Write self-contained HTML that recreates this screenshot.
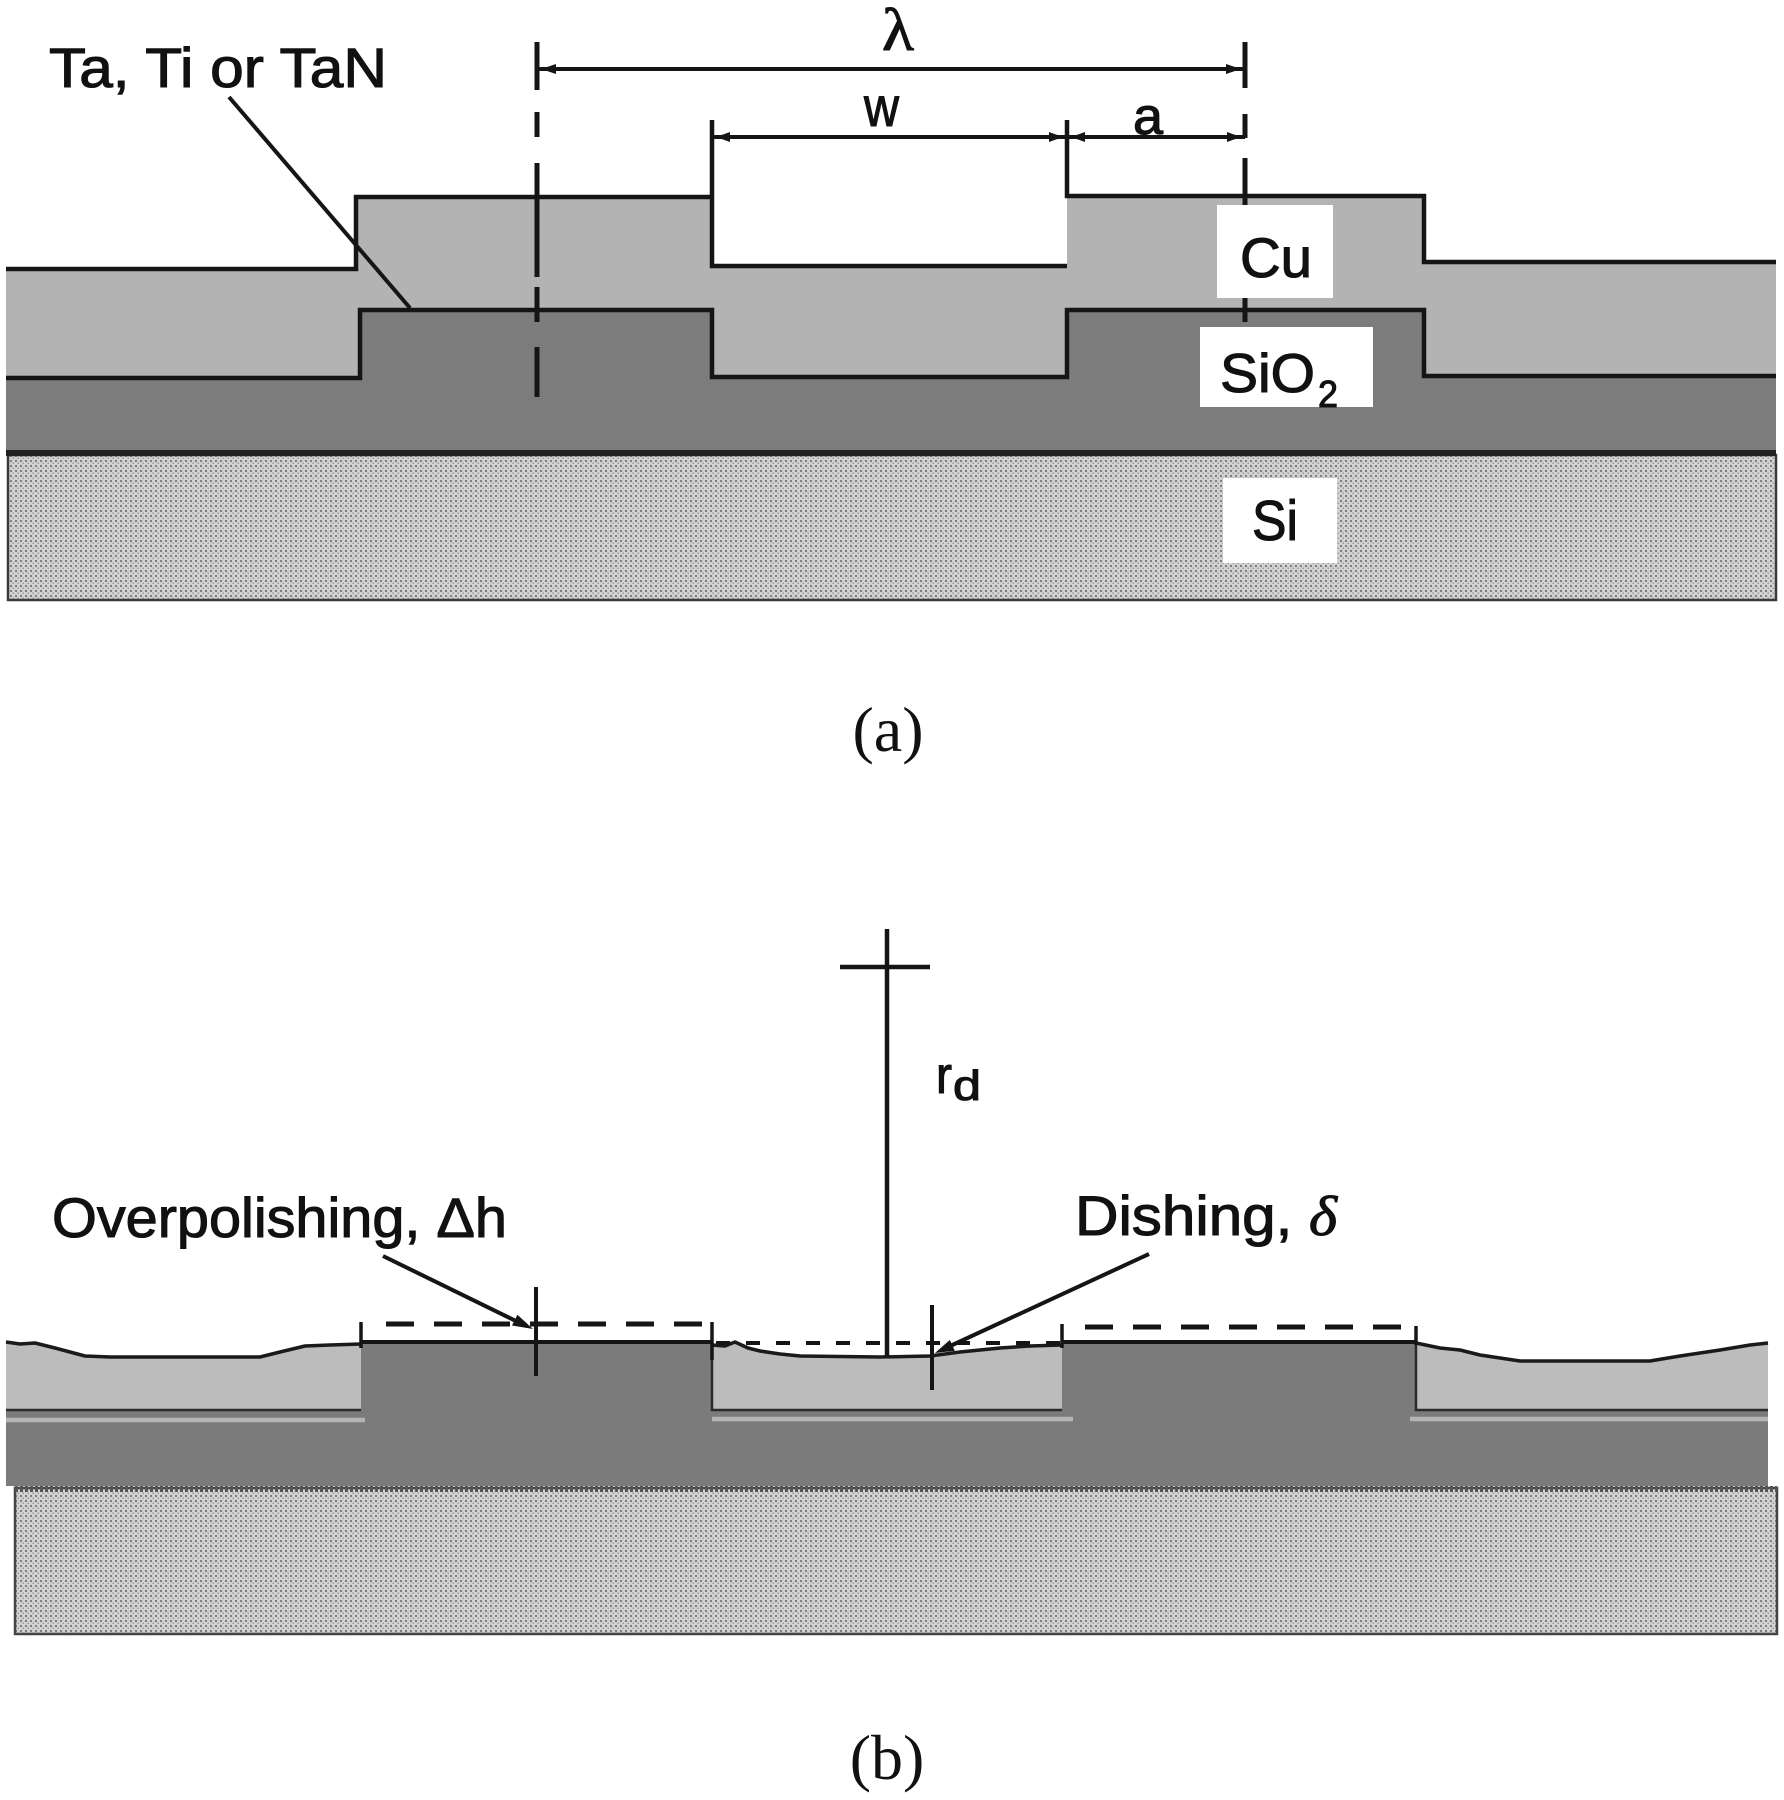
<!DOCTYPE html>
<html>
<head>
<meta charset="utf-8">
<style>
  html, body { margin: 0; padding: 0; background: #ffffff; }
  body { width: 1784px; height: 1800px; overflow: hidden; }
  svg { display: block; }
  .sans { font-family: "Liberation Sans", Arial, sans-serif; fill: #111; stroke: #111; stroke-width: 1.1; }
  .serif { font-family: "Liberation Serif", "Times New Roman", serif; fill: #111; }
</style>
</head>
<body>
<svg width="1784" height="1800" viewBox="0 0 1784 1800" xmlns="http://www.w3.org/2000/svg">
  <defs>
    <pattern id="stip" x="0" y="0" width="5" height="5" patternUnits="userSpaceOnUse">
      <rect width="5" height="5" fill="#d2d2d2"/>
      <rect x="0" y="0" width="2" height="2" fill="#7e7e7e"/>
      <rect x="2.5" y="2.5" width="1.5" height="1.5" fill="#9c9c9c"/>
    </pattern>
  </defs>

  <!-- ================= (a) ================= -->
  <rect x="8" y="455" width="1768" height="145" fill="url(#stip)" stroke="#3a3a3a" stroke-width="2.5"/>
  <path d="M6,378 H360 V310 H712 V377 H1067 V310 H1424 V376 H1776 V455 H6 Z" fill="#7c7c7c"/>
  <path d="M6,269 H356 V197 H712 V266 H1067 V196 H1424 V262 H1776 V376 H1424 V310 H1067 V377 H712 V310 H360 V378 H6 Z" fill="#b3b3b3"/>

  <g fill="none" stroke="#151515" stroke-width="4.5" stroke-linejoin="miter">
    <path d="M6,269 H356 V197 H712"/>
    <path d="M712,120 V266 H1067"/>
    <path d="M1067,120 V196 H1424 V262 H1776"/>
    <path d="M6,378 H360 V310 H712 V377 H1067 V310 H1424 V376 H1776"/>
  </g>
  <line x1="6" y1="453" x2="1776" y2="453" stroke="#222" stroke-width="6"/>

  <g stroke="#151515" stroke-width="5">
    <line x1="537" y1="42" x2="537" y2="90"/>
    <line x1="537" y1="112" x2="537" y2="137"/>
    <line x1="537" y1="163" x2="537" y2="277"/>
    <line x1="537" y1="287" x2="537" y2="322"/>
    <line x1="537" y1="347" x2="537" y2="397"/>
  </g>
  <g stroke="#151515" stroke-width="5">
    <line x1="1245" y1="42" x2="1245" y2="88"/>
    <line x1="1245" y1="114" x2="1245" y2="138"/>
    <line x1="1245" y1="158" x2="1245" y2="205"/>
    <line x1="1245" y1="298" x2="1245" y2="322"/>
  </g>

  <g stroke="#151515" stroke-width="4">
    <line x1="537" y1="69" x2="1245" y2="69"/>
    <line x1="712" y1="137" x2="1067" y2="137"/>
    <line x1="1067" y1="137" x2="1245" y2="137"/>
  </g>
  <g fill="#151515">
    <polygon points="541,69 556,64 556,74"/>
    <polygon points="1241,69 1226,64 1226,74"/>
    <polygon points="716,137 730,132 730,142"/>
    <polygon points="1063,137 1049,132 1049,142"/>
    <polygon points="1071,137 1085,132 1085,142"/>
    <polygon points="1241,137 1227,132 1227,142"/>
  </g>

  <line x1="229" y1="97" x2="410" y2="308" stroke="#151515" stroke-width="4"/>

  <rect x="1217" y="205" width="116" height="93" fill="#ffffff"/>
  <rect x="1200" y="327" width="173" height="80" fill="#ffffff"/>
  <rect x="1223" y="478" width="114" height="85" fill="#ffffff"/>

  <text class="sans" x="49" y="87" font-size="56" textLength="338" lengthAdjust="spacingAndGlyphs">Ta, Ti or TaN</text>
  <text class="serif" x="882" y="50" font-size="60" stroke="#111" stroke-width="1" textLength="32" lengthAdjust="spacingAndGlyphs">λ</text>
  <text class="sans" x="864" y="126" font-size="56" textLength="35" lengthAdjust="spacingAndGlyphs">w</text>
  <text class="sans" x="1133" y="134" font-size="52" textLength="30" lengthAdjust="spacingAndGlyphs">a</text>
  <text class="sans" x="1240" y="277" font-size="56" textLength="72" lengthAdjust="spacingAndGlyphs">Cu</text>
  <text class="sans" x="1220" y="392" font-size="55" textLength="95" lengthAdjust="spacingAndGlyphs">SiO</text>
  <text class="sans" x="1318" y="407" font-size="38" textLength="20" lengthAdjust="spacingAndGlyphs">2</text>
  <text class="sans" x="1252" y="540" font-size="57" textLength="46" lengthAdjust="spacingAndGlyphs">Si</text>

  <text class="serif" x="888" y="751" font-size="64" text-anchor="middle">(a)</text>

  <!-- ================= (b) ================= -->
  <rect x="15" y="1488" width="1762" height="146" fill="url(#stip)" stroke="#444" stroke-width="2.5"/>
  <line x1="15" y1="1489" x2="1777" y2="1489" stroke="#555" stroke-width="6" stroke-dasharray="3 2"/>
  <!-- SiO2 -->
  <path d="M6,1410 H361 V1342 H712 V1410 H1062 V1342 H1416 V1410 H1768 V1486 H6 Z" fill="#7b7b7b"/>

  <!-- Cu regions -->
  <path d="M6,1342 L20,1344 L35,1343 L55,1348 L85,1356 L110,1357 L260,1357 L280,1352 L305,1346 L330,1345 L361,1344 L361,1410 L6,1410 Z" fill="#bcbcbc"/>
  <path d="M712,1345 L725,1346 L735,1342 L748,1348 L760,1351 L780,1354 L800,1356 L880,1357 L930,1356 L960,1352 L1000,1348 L1030,1346 L1062,1345 L1062,1410 L712,1410 Z" fill="#bcbcbc"/>
  <path d="M1416,1343 L1440,1348 L1460,1350 L1480,1355 L1500,1358 L1520,1361 L1650,1361 L1680,1356 L1720,1350 L1750,1345 L1768,1343 L1768,1410 L1416,1410 Z" fill="#bcbcbc"/>

  <g stroke="#b4b4b4" stroke-width="4.5">
    <line x1="6" y1="1420" x2="365" y2="1420"/>
    <line x1="712" y1="1419" x2="1073" y2="1419"/>
    <line x1="1410" y1="1419" x2="1768" y2="1419"/>
  </g>
  <g stroke="#2a2a2a" stroke-width="2.5" fill="none">
    <line x1="6" y1="1410" x2="361" y2="1410"/>
    <path d="M712,1342 V1410 H1062"/>
    <path d="M1416,1327 V1410 H1768"/>
  </g>

  <g fill="none" stroke="#1a1a1a" stroke-width="3.5" stroke-linejoin="round">
    <polyline points="6,1342 20,1344 35,1343 55,1348 85,1356 110,1357 260,1357 280,1352 305,1346 330,1345 361,1344"/>
    <polyline points="712,1345 725,1346 735,1342 748,1348 760,1351 780,1354 800,1356 880,1357 930,1356 960,1352 1000,1348 1030,1346 1062,1345"/>
    <polyline points="1416,1343 1440,1348 1460,1350 1480,1355 1500,1358 1520,1361 1650,1361 1680,1356 1720,1350 1750,1345 1768,1343"/>
  </g>
  <g stroke="#151515" stroke-width="4">
    <line x1="361" y1="1342" x2="712" y2="1342"/>
    <line x1="1062" y1="1342" x2="1416" y2="1342"/>
  </g>

  <g stroke="#151515" stroke-width="5" stroke-dasharray="28 20">
    <line x1="386" y1="1324" x2="705" y2="1324"/>
    <line x1="1085" y1="1327" x2="1410" y2="1327"/>
  </g>
  <line x1="716" y1="1343" x2="1060" y2="1343" stroke="#151515" stroke-width="4" stroke-dasharray="14 16"/>
  <g stroke="#151515" stroke-width="3.5">
    <line x1="361" y1="1322" x2="361" y2="1348"/>
    <line x1="712" y1="1322" x2="712" y2="1360"/>
    <line x1="1062" y1="1324" x2="1062" y2="1348"/>
    <line x1="1416" y1="1326" x2="1416" y2="1345"/>
  </g>

  <g stroke="#151515" stroke-width="4.5">
    <line x1="887" y1="929" x2="887" y2="1357"/>
    <line x1="840" y1="967" x2="930" y2="967"/>
  </g>
  <text class="sans" x="936" y="1093" font-size="52" textLength="16" lengthAdjust="spacingAndGlyphs">r</text>
  <text class="sans" x="953" y="1100" font-size="42" textLength="28" lengthAdjust="spacingAndGlyphs">d</text>

  <text class="sans" x="52" y="1237" font-size="56" textLength="455" lengthAdjust="spacingAndGlyphs">Overpolishing, Δh</text>
  <line x1="383" y1="1256" x2="520" y2="1323" stroke="#151515" stroke-width="4"/>
  <polygon points="533,1329 512,1325.5 517.4,1314.7" fill="#151515"/>
  <line x1="536" y1="1287" x2="536" y2="1376" stroke="#151515" stroke-width="4"/>

  <text class="sans" x="1075" y="1235" font-size="56" textLength="262" lengthAdjust="spacingAndGlyphs">Dishing, <tspan font-style="italic" font-family="Liberation Serif, serif">δ</tspan></text>
  <line x1="1149" y1="1254" x2="948" y2="1347" stroke="#151515" stroke-width="4"/>
  <polygon points="935,1353 954.8,1350.8 949.8,1340" fill="#151515"/>
  <line x1="932" y1="1305" x2="932" y2="1390" stroke="#151515" stroke-width="4"/>

  <text class="serif" x="887" y="1779" font-size="64" text-anchor="middle">(b)</text>
</svg>
</body>
</html>
